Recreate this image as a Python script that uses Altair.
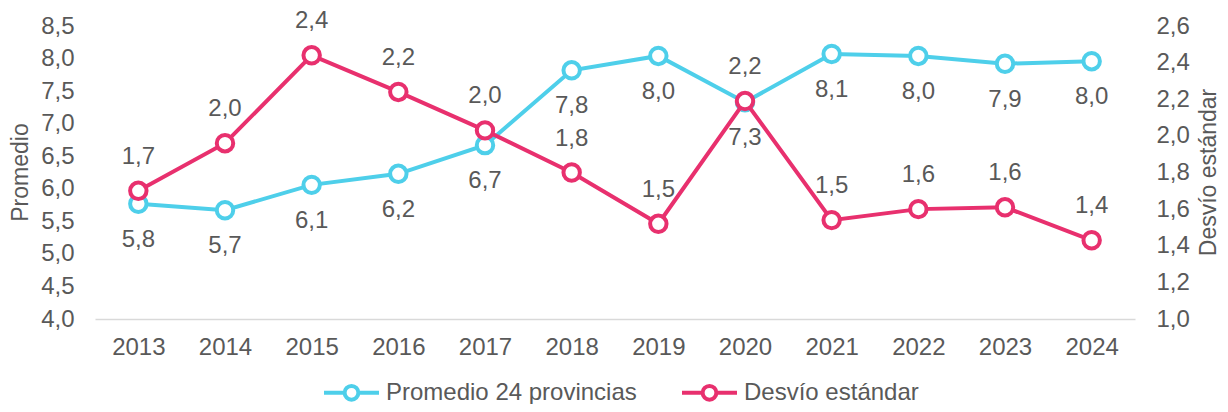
import altair as alt
import pandas as pd

years = ["2013", "2014", "2015", "2016", "2017", "2018", "2019", "2020", "2021", "2022", "2023", "2024"]
promedio = [5.77, 5.67, 6.06, 6.23, 6.67, 7.82, 8.04, 7.33, 8.07, 8.04, 7.92, 7.96]
desvio = [1.70, 1.96, 2.44, 2.24, 2.03, 1.80, 1.52, 2.19, 1.54, 1.60, 1.61, 1.43]

S1 = "Promedio 24 provincias"
S2 = "Desvío estándar"
C1 = "#4ECFEA"
C2 = "#E8306E"
GRAY = "#595959"
FONT = "Liberation Sans"
FS = 24

df1 = pd.DataFrame({"year": years, "value": promedio, "serie": S1})
df2 = pd.DataFrame({"year": years, "value": desvio, "serie": S2})

label_expr = "replace(format(datum.value, '.1f'), '.', ',')"
sym_path = "M-1,0L-0.25,0M0.25,0L1,0M0.25,0A0.25,0.25,0,1,1,-0.25,0A0.25,0.25,0,1,1,0.25,0"

x = alt.X("year:O", title=None,
          axis=alt.Axis(labelAngle=0, labelFontSize=FS, labelColor=GRAY, labelFont=FONT,
                        ticks=False, domainColor="#D9D9D9", domainWidth=1.5, labelPadding=16))

color = alt.Color("serie:N", scale=alt.Scale(domain=[S1, S2], range=[C1, C2]),
                  legend=alt.Legend(title=None, orient="none", legendX=227, legendY=337,
                                    direction="horizontal", symbolType=sym_path,
                                    symbolSize=3025, symbolStrokeWidth=4,
                                    symbolFillColor="white", labelFontSize=FS,
                                    labelColor=GRAY, labelFont=FONT, labelOffset=5,
                                    labelLimit=500, columnPadding=37, padding=0))


def series_layer(df, domain, tick_vals, orient, title, c, dy, title_x):
    y_axis = alt.Axis(orient=orient, values=tick_vals, labelExpr=label_expr, title=title,
                      labelFontSize=FS, labelColor=GRAY, labelFont=FONT, domain=False,
                      ticks=False, grid=False, labelPadding=21, titleFontSize=23,
                      titleColor=GRAY, titleFont=FONT, titleFontWeight="normal",
                      titleAngle=270, titleX=title_x, titleY=146, titleAlign="center",
                      titleBaseline="middle")
    y = alt.Y("value:Q", scale=alt.Scale(domain=domain, nice=False, zero=False), axis=y_axis)
    base = alt.Chart(df)
    line = base.mark_line(strokeWidth=4).encode(x=x, y=y, color=color)
    pts = base.mark_point(filled=False, size=270, strokeWidth=4, fill="white",
                          fillOpacity=1, opacity=1, stroke=c).encode(x=x, y=y)
    txt = base.mark_text(dy=dy, fontSize=FS, color=GRAY, font=FONT).encode(
        x=x, y=y, text=alt.Text("label:N")
    ).transform_calculate(label=label_expr)
    return alt.layer(line, pts, txt)


l1 = series_layer(df1, [4.0, 8.5], [4.0, 4.5, 5.0, 5.5, 6.0, 6.5, 7.0, 7.5, 8.0, 8.5],
                  "left", "Promedio", C1, 36, -75)
l2 = series_layer(df2, [1.0, 2.6], [1.0, 1.2, 1.4, 1.6, 1.8, 2.0, 2.2, 2.4, 2.6],
                  "right", "Desvío estándar", C2, -34, 73)

chart = alt.layer(l1, l2).resolve_scale(y="independent").properties(
    width=1040, height=293,
    background="white",
    autosize=alt.AutoSizeParams(type="none"),
    padding={"left": 87, "top": 18, "right": 85, "bottom": 85},
).configure_view(strokeWidth=0, stroke="transparent")

chart.save("out.html", embed_options={"renderer": "svg", "actions": False})
